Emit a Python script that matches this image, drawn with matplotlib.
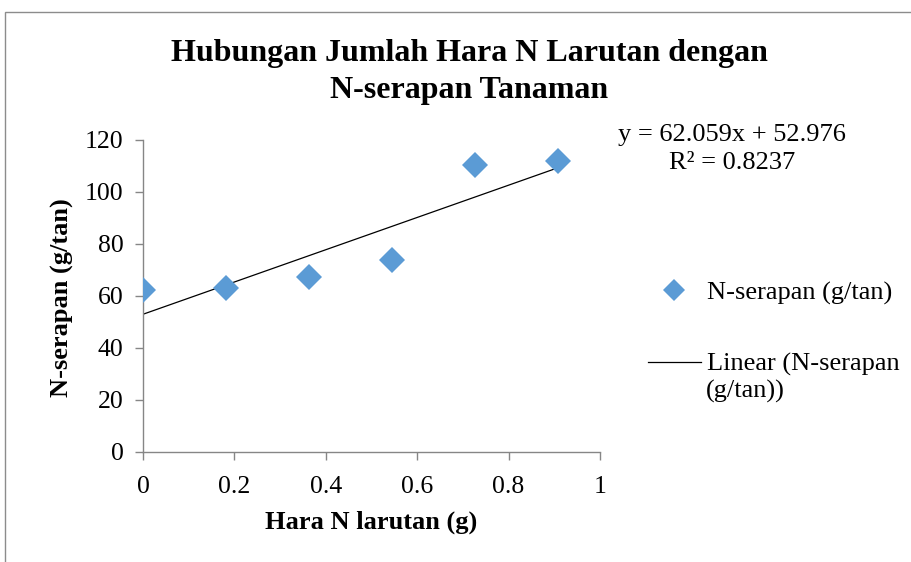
import numpy as np
import matplotlib
matplotlib.use("Agg")
import matplotlib.pyplot as plt
from matplotlib.patches import Rectangle

# data
hara_n = [0.0, 0.182, 0.364, 0.545, 0.727, 0.909]
n_serapan = [62.4, 62.9, 67.2, 74.0, 110.4, 111.8]

# trendline as printed on the chart
slope = 62.059
intercept = 52.976
r_squared = 0.8237

x_ticks = [0, 0.2, 0.4, 0.6, 0.8, 1]
x_ticklabels = ["0", "0.2", "0.4", "0.6", "0.8", "1"]
y_ticks = [0, 20, 40, 60, 80, 100, 120]

plt.rcParams['font.family'] = ['Liberation Serif', 'DejaVu Serif']

W, H = 912, 562
fig = plt.figure(figsize=(W / 100, H / 100), dpi=100)
ax = fig.add_axes([143 / W, 1 - 452 / H, (600 - 143) / W, (452 - 140) / H])

blue = '#5B9BD5'
grey = '#868686'

ax.plot(hara_n, n_serapan, linestyle='none', marker='D', ms=13,
        mfc=blue, mec=blue, mew=0, label='N-serapan (g/tan)', zorder=3)

x_fit = np.array([hara_n[0], hara_n[-1]])
ax.plot(x_fit, slope * x_fit + intercept, color='black', lw=0.9,
        label='Linear (N-serapan', zorder=2)

ax.set_xlim(0, 1)
ax.set_ylim(0, 120)
ax.set_xticks(x_ticks)
ax.set_xticklabels(x_ticklabels)
ax.set_yticks(y_ticks)

for s in ['top', 'right']:
    ax.spines[s].set_visible(False)
for s in ['left', 'bottom']:
    ax.spines[s].set_color(grey)
    ax.spines[s].set_linewidth(1.0)
ax.tick_params(axis='both', direction='out', length=6, width=1.0,
               color=grey, labelsize=18.5, labelcolor='black')
ax.tick_params(axis='y', pad=8)
ax.tick_params(axis='x', pad=11)

fs = 19
fig.text(371 / W, 1 - 522 / H, 'Hara N larutan (g)', ha='center', va='center',
         fontsize=fs, fontweight='bold')
fig.text(62 / W, 1 - 298 / H, 'N-serapan (g/tan)', ha='center', va='center',
         rotation=90, fontsize=fs, fontweight='bold')

fig.text(469 / W, 1 - 72 / H, 'Hubungan Jumlah Hara N Larutan dengan\nN-serapan Tanaman',
         ha='center', va='center', fontsize=23, fontweight='bold', linespacing=1.32)

fig.text(732 / W, 1 - 135 / H, f'y = {slope}x + {intercept}', ha='center', va='center',
         fontsize=fs)
fig.text(732 / W, 1 - 163 / H, f'R² = {r_squared}', ha='center', va='center',
         fontsize=fs)

leg = fig.legend(loc='upper left', bbox_to_anchor=(648 / W, 1 - 281 / H),
                 frameon=False, fontsize=fs, handlelength=2.0, handletextpad=0.25,
                 labelspacing=1.8, borderpad=0, borderaxespad=0, markerscale=0.9)
# second line of the trendline label, as Excel wraps it
fig.text(706 / W, 1 - 391 / H, '(g/tan))', ha='left', va='center', fontsize=fs)

# chart-area border (Excel style)
fig.patches.append(Rectangle((5 / W, -0.1), 1.2, 1.1 - 12 / H, transform=fig.transFigure,
                             fill=False, edgecolor='#8c8c8c', lw=1.0))

fig.savefig('out.png', dpi=100)
